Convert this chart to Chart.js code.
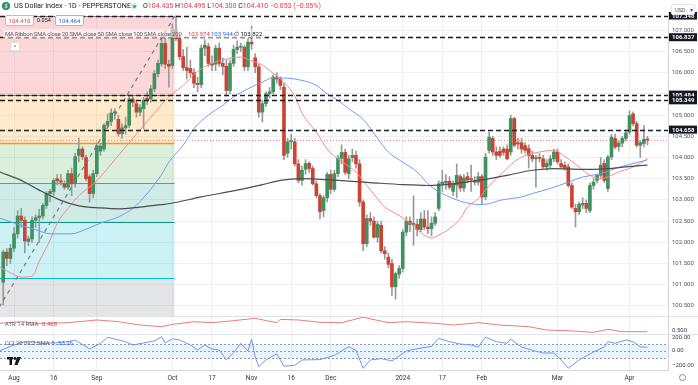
<!DOCTYPE html>
<html><head><meta charset="utf-8">
<script src="https://cdn.jsdelivr.net/npm/chart.js@4.4.1/dist/chart.umd.min.js"></script>
<style>
body{margin:0;width:698px;height:385px;overflow:hidden;background:#fff;font-family:Roboto,"Open Sans",sans-serif;position:relative}
.pane{position:absolute;left:0;width:698px;overflow:hidden}
.t{position:absolute;white-space:nowrap;font-size:6px;line-height:8px;z-index:5}
</style></head><body>
<div class="pane" style="top:12px;height:304px;z-index:1"><canvas id="main" width="698" height="304"></canvas></div>
<div class="pane" style="top:316px;height:18px;z-index:2"><canvas id="atr" width="698" height="18"></canvas></div>
<div class="pane" style="top:334px;height:51px;z-index:3"><canvas id="cci" width="698" height="51"></canvas></div>

<div class="t" style="left:2px;top:2px;width:8px;height:8px;border-radius:50%;background:#2e8b57;color:#fff;font-size:6px;line-height:8px;text-align:center">$</div>
<div class="t" style="left:14px;top:2px;color:#131722;font-size:7.2px">US Dollar Index · 1D · PEPPERSTONE</div>
<div class="t" style="left:131px;top:3px;width:6px;height:6px;border-radius:50%;background:#c8efd9"><div style="margin:1.5px;width:3px;height:3px;border-radius:50%;background:#22ab94"></div></div>
<div class="t" style="left:143px;top:2px;color:#131722;font-size:7px">O<span style="color:#f23645">104.435</span> H<span style="color:#f23645">104.495</span> L<span style="color:#f23645">104.300</span> C<span style="color:#f23645">104.410 −0.053 (−0.05%)</span></div>

<div class="t" style="left:5px;top:15px;width:27px;height:9px;border:1px solid #f7a1a8;border-radius:2px;background:#fff;color:#f23645;text-align:center;line-height:9px">104.410</div>
<div class="t" style="left:37px;top:16px;color:#131722;font-size:5.5px">0.054</div>
<div class="t" style="left:55px;top:15px;width:27px;height:9px;border:1px solid #9db6f7;border-radius:2px;background:#fff;color:#2962ff;text-align:center;line-height:9px">104.464</div>
<div class="t" style="left:3px;top:29px;width:262px;height:9px;background:rgba(255,255,255,0.55)"></div>
<div class="t" style="left:5px;top:30px;color:#5d606b;letter-spacing:-0.2px">MA Ribbon SMA close 20 SMA close 50 SMA close 100 SMA close 200</div>
<div class="t" style="left:188px;top:30px;color:#f23645">103.974</div>
<div class="t" style="left:211px;top:30px;color:#2962ff">103.944</div>
<div class="t" style="left:234px;top:30px;color:#131722">∅ 103.822</div>
<div class="t" style="left:10px;top:42px;width:8px;height:7px;border:1px solid #ddd;border-radius:2px;background:#fff;color:#555;font-size:6px;line-height:8px;text-align:center">^</div>

<div class="t" style="left:671px;top:4px;width:24px;height:11px;border:1px solid #e0e3eb;border-radius:2px;background:#fff;color:#555;font-size:5.5px;line-height:11px;padding-left:3px;box-sizing:border-box">USD <span style="margin-left:3px">▾</span></div>

<div class="t" style="left:5px;top:320px;color:#5d606b">ATR 14 RMA <span style="color:#f23645;margin-left:2px">0.468</span></div>
<div class="t" style="left:5px;top:339px;color:#5d606b">CCI 20 hlc3 SMA 5 <span style="color:#2962ff;margin-left:2px">53.26</span></div>
<svg class="t" style="left:7px;top:357px" width="14" height="8" viewBox="0 0 14 8"><rect x="0" y="0" width="6" height="2.5" fill="#131722"/><rect x="2.5" y="0" width="2.5" height="8" fill="#131722"/><circle cx="8" cy="1.5" r="1.4" fill="#131722"/><path d="M10 0 L14 0 L10.5 8 L7.5 8 Z" fill="#131722"/></svg>
<div class="t" style="left:679px;top:374px;width:7px;height:7px;border:1px solid #888;border-radius:50%;box-sizing:border-box"></div>

<script>
// ---------- data ----------
const tickIdx  = [3, 14, 26, 47, 58, 69, 80, 91, 111, 122, 133, 154, 174];
const tickText = ['Aug','16','Sep','Oct','17','Nov','16','Dec','2024','17','Feb','Mar','Apr'];
const priceTicks = [100.5,101,101.5,102,102.5,103,103.5,104,104.5,105,105.5,106,106.5,107];
const atrTicks = [0.5];
const cciTicks = [200, 0, -200];

const open = [101.06,101.77,101.62,101.86,102.20,102.62,102.52,102.02,102.08,102.52,102.58,102.62,102.87,103.15,103.19,103.50,103.45,103.38,103.30,103.62,103.38,104.05,104.20,104.00,103.55,103.15,103.62,104.15,104.20,104.76,104.85,105.05,104.90,104.56,104.70,104.76,105.38,105.27,105.07,105.15,105.40,105.38,105.62,105.98,106.21,106.69,106.20,106.17,107.02,106.80,106.38,106.12,106.10,106.00,105.75,105.72,106.58,106.62,106.22,106.20,106.58,106.22,106.15,105.58,106.22,106.55,106.60,106.60,106.14,106.72,106.35,106.14,105.07,105.27,105.50,105.55,105.90,105.85,105.66,104.10,104.37,104.37,103.85,103.46,103.72,103.86,103.74,103.38,103.10,102.75,103.05,103.60,103.25,103.62,103.98,104.12,103.62,104.00,104.05,103.85,102.95,101.97,102.56,102.50,102.12,102.40,101.80,101.65,101.50,100.95,101.25,101.38,102.24,102.50,102.42,102.42,102.30,102.55,102.36,102.32,102.45,102.80,103.38,103.40,103.44,103.20,103.35,103.55,103.28,103.55,103.50,103.45,103.42,103.55,103.07,104.17,104.45,104.13,104.15,104.20,104.20,104.13,104.92,104.35,104.35,104.28,104.21,104.05,103.97,104.00,103.97,103.78,103.82,103.97,104.13,103.86,103.82,103.78,103.34,102.80,102.72,102.88,102.92,102.75,103.34,103.46,103.58,103.86,103.27,104.01,104.45,104.26,104.34,104.45,104.60,105.03,104.80,104.29,104.33,104.435];
const high = [101.82,101.85,101.95,102.35,102.75,102.80,102.60,102.15,102.60,102.65,102.78,102.92,103.20,103.25,103.50,103.60,103.60,103.45,103.70,103.75,104.10,104.46,104.25,104.05,103.60,103.70,104.35,104.32,104.80,105.03,105.15,105.15,105.00,104.80,104.95,105.45,105.45,105.35,105.25,105.42,105.55,105.70,106.05,106.30,106.80,106.85,106.30,107.15,107.34,106.90,106.55,106.60,106.30,106.10,105.90,106.65,106.78,106.70,106.40,106.65,106.70,106.35,106.30,106.30,106.65,106.75,106.70,106.65,106.80,107.10,106.45,106.20,105.35,105.55,105.65,105.95,106.00,105.90,105.75,104.45,104.55,104.45,103.95,103.80,103.95,103.90,103.80,103.45,103.15,103.10,103.65,103.70,103.70,104.05,104.30,104.20,104.05,104.20,104.15,103.95,103.00,102.65,102.70,102.60,102.50,102.50,101.90,101.75,101.60,101.30,101.45,102.30,102.60,102.60,103.10,102.55,102.70,102.75,102.75,102.60,102.70,103.45,103.70,103.60,103.55,103.45,103.85,103.60,103.60,103.65,103.82,103.55,103.65,103.60,104.10,104.60,104.50,104.25,104.25,104.25,104.30,105.00,104.95,104.45,104.45,104.35,104.30,104.15,104.05,104.10,104.05,103.95,104.05,104.20,104.20,103.95,103.90,103.85,103.40,102.90,102.95,103.05,103.00,103.40,103.50,103.60,104.00,103.95,104.05,104.55,104.55,104.40,104.50,104.65,105.10,105.08,104.85,104.40,104.76,104.495];
const low = [100.52,101.45,101.50,101.78,102.10,102.35,101.75,101.92,102.00,102.35,102.00,102.55,102.80,102.95,103.10,103.35,103.35,103.25,103.25,103.10,103.30,103.90,103.95,103.45,102.95,103.05,103.55,104.05,104.15,104.70,104.75,104.90,104.50,104.45,104.55,104.70,105.20,104.95,104.98,104.68,105.25,105.30,105.55,105.90,106.15,106.10,105.66,106.10,106.75,106.30,106.05,105.85,105.90,105.65,105.55,105.65,106.40,106.15,106.05,106.05,106.15,105.95,105.45,105.50,106.15,106.45,106.50,106.05,106.05,106.55,106.00,104.95,104.84,105.20,105.40,105.50,105.75,105.60,103.95,104.00,104.20,103.80,103.40,103.35,103.60,103.65,103.35,103.05,102.55,102.60,102.95,103.15,103.20,103.55,103.85,103.60,103.50,103.90,103.75,102.85,101.80,101.90,102.40,102.10,102.00,101.75,101.60,101.40,100.75,100.66,101.15,101.30,102.15,102.25,101.93,102.15,102.25,102.30,102.20,102.15,102.40,102.75,103.20,103.25,103.25,103.10,103.05,103.20,103.20,103.40,103.20,103.35,103.35,102.90,103.00,104.10,104.05,103.95,104.00,104.05,103.95,104.05,104.25,104.20,104.10,104.10,103.75,103.90,103.30,103.90,103.75,103.70,103.75,103.90,103.85,103.75,103.70,103.30,102.80,102.36,102.65,102.80,102.70,102.70,103.25,103.40,103.50,103.40,103.20,103.95,104.20,104.15,104.25,104.40,104.55,104.75,104.25,104.00,104.25,104.30];
const close = [101.77,101.62,101.86,102.20,102.62,102.52,102.03,102.08,102.52,102.58,102.62,102.87,103.15,103.20,103.46,103.45,103.42,103.30,103.62,103.38,104.02,104.20,104.02,103.50,103.15,103.62,104.28,104.27,104.76,104.85,105.05,105.08,104.56,104.70,104.75,105.38,105.30,105.07,105.18,105.35,105.35,105.62,105.98,106.22,106.69,106.20,106.15,107.02,106.80,106.38,106.12,106.05,106.00,105.75,105.72,106.58,106.65,106.22,106.18,106.58,106.22,106.15,105.58,106.22,106.55,106.60,106.62,106.14,106.72,106.68,106.14,105.07,105.27,105.50,105.55,105.90,105.85,105.70,104.05,104.37,104.40,103.85,103.46,103.70,103.86,103.74,103.38,103.10,102.72,103.05,103.60,103.25,103.62,103.98,104.12,103.65,103.97,104.05,103.85,102.95,101.97,102.56,102.50,102.12,102.43,101.80,101.73,101.48,100.95,101.26,101.38,102.24,102.50,102.42,102.45,102.30,102.55,102.36,102.32,102.45,102.60,103.38,103.42,103.44,103.30,103.38,103.58,103.28,103.52,103.47,103.48,103.42,103.55,103.07,104.01,104.48,104.13,104.05,104.05,104.12,103.97,104.92,104.29,104.32,104.20,104.17,104.05,103.97,104.00,103.98,103.78,103.86,103.97,104.13,103.90,103.78,103.74,103.34,102.83,102.72,102.90,102.92,102.80,103.34,103.42,103.58,103.82,103.46,104.01,104.48,104.25,104.34,104.45,104.58,104.99,104.80,104.29,104.35,104.43,104.41];

const sma20Idx = [-1,2,5,8,10,13,15,18,21,26,31,36,41,46,50,54,58,62,66,69,72,74,77,81,83,87,90,93,95,98,101,104,106,109,112,115,117,119,121,124,127,129,132,135,138,142,145,149,153,155,157,160,163,166,169,171,174,177,179];
const sma20Val = [101.42,101.28,101.18,101.2,101.55,102.05,102.45,102.8,103.1,103.45,103.95,104.45,104.95,105.43,105.7,106.03,106.22,106.32,106.37,106.28,106.18,106.05,105.85,105.45,105.05,104.6,104.2,103.97,103.85,103.66,103.34,103.03,102.83,102.68,102.52,102.3,102.17,102.1,102.17,102.32,102.56,102.83,103.03,103.34,103.58,103.9,104.05,104.13,104.17,104.09,103.97,103.78,103.58,103.5,103.58,103.66,103.74,103.86,103.974];
const sma50Idx = [-1,5,9,13,19,23,27,32,36,40,44,46,50,53,57,61,64,68,72,75,79,83,87,90,93,96,100,104,107,111,115,118,121,124,127,130,132,135,138,144,147,152,157,161,166,170,175,179];
const sma50Val = [102.57,102.4,102.3,102.2,102.2,102.31,102.45,102.6,102.8,103.15,103.6,103.89,104.29,104.68,105.0,105.23,105.43,105.62,105.78,105.88,105.87,105.82,105.7,105.5,105.35,105.15,104.9,104.45,104.13,103.89,103.66,103.38,103.19,103.07,102.97,102.91,102.89,102.91,102.99,103.07,103.15,103.27,103.42,103.54,103.62,103.74,103.86,103.944];
const sma200Idx = [-1,5,10,16,21,27,32,38,44,46,55,65,72,77,83,93,102,111,118,125,132,140,147,153,161,168,173,179];
const sma200Val = [103.66,103.46,103.23,102.99,102.86,102.81,102.79,102.83,102.89,102.91,103.07,103.23,103.36,103.46,103.5,103.46,103.41,103.36,103.34,103.38,103.46,103.58,103.7,103.74,103.72,103.74,103.78,103.822];

const atrIdx = [-1,5,10,18,26,32,38,44,47,53,58,64,70,76,77,82,88,94,100,107,112,120,125,132,138,146,151,157,164,168,172,179];
const atrVal = [0.626,0.657,0.626,0.638,0.689,0.657,0.594,0.563,0.607,0.657,0.638,0.676,0.72,0.638,0.70,0.689,0.645,0.638,0.74,0.638,0.657,0.626,0.594,0.638,0.594,0.563,0.5,0.487,0.456,0.513,0.468,0.468];
const cciIdx = [-1,3,6,8,11,14,18,20,24,27,29,31,34,36,39,42,44,45,47,49,52,54,56,58,60,62,64,66,68,69,70,71,73,76,78,81,83,88,92,94,96,98,100,102,105,108,112,115,119,121,124,127,130,132,134,137,140,141,144,147,150,153,155,157,160,164,167,168,170,173,175,177,179];
const cciVal = [4,84,130,130,107,112,130,153,28,107,190,167,130,84,112,140,200,112,170,153,84,14,84,28,14,-125,-23,107,0,167,-83,-218,-125,-37,-213,-199,-125,-120,-60,0,60,9,-241,-125,-106,-139,0,32,65,176,130,97,84,56,195,130,107,167,56,9,-28,-28,-125,-241,-125,-14,56,130,107,153,130,56,53.26];

const fibLevels = [107.33, 105.48, 104.34, 103.41, 102.49, 101.17, 99.5];
const fibFromIdx = -8, fibToIdx = 47.6;
const dashLevels = [107.348, 106.837, 105.484, 105.349, 104.658];
const lastPrice = 104.41;
const cciBand = [100, 0, -100];

// ---------- styles ----------
const UP = '#3f9160', DOWN = '#cc4332', WICK = '#9a9a9a';
const GRID = '#eef0f4';
const fibFill = ['rgba(242,54,69,0.2)','rgba(255,152,0,0.2)','rgba(76,175,80,0.2)','rgba(8,153,129,0.2)','rgba(0,188,212,0.2)','rgba(120,123,134,0.2)'];
const fibLine = ['#787b86','#f23645','#ff9800','#4caf50','#089981','#00bcd4','#787b86'];
const FONT = {family:'Roboto, sans-serif', size:6};
const XFONT = {family:'Roboto, sans-serif', size:6.5};

const idx = open.map((_, i) => i);
const pts = (xs, ys) => xs.map((x, k) => ({x, y: ys[k]}));
const XMIN = -0.9, XMAX = 184.7;

function xScale(showLabels){
  return {
    type:'linear', min:XMIN, max:XMAX, offset:false,
    afterBuildTicks: s => { s.ticks = tickIdx.map(v => ({value:v})); },
    ticks:{display:showLabels, autoSkip:false, maxRotation:0, padding:4, color:'#333', font:XFONT,
      callback: v => { const k = tickIdx.indexOf(v); return k >= 0 ? tickText[k] : ''; }},
    grid:{color:GRID, drawTicks:false, offset:false},
    border:{display:showLabels, color:'#d1d4dc'},
    afterFit: s => { s.height = showLabels ? 15 : 0; s.paddingLeft = 0; s.paddingRight = 0; }
  };
}
function yScale(min, max, tickVals, fmt, showGrid, showLabels){
  return {
    position:'right', min, max,
    afterBuildTicks: s => { s.ticks = tickVals.map(v => ({value:v})); },
    ticks:{display:showLabels, color:'#555', font:FONT, padding:4, autoSkip:false, callback: fmt},
    grid:{color: showGrid ? GRID : 'rgba(0,0,0,0)', drawTicks:false},
    border:{display:true, color:'#d1d4dc'},
    afterFit: s => { s.width = 30; s.paddingTop = 0; s.paddingBottom = 0; }
  };
}
const baseOpts = {responsive:false, animation:false, events:[], layout:{padding:0},
  plugins:{legend:{display:false}, tooltip:{enabled:false}}};

function axisLabelPlugin(vals, fmt){
  return {
    id:'axlab',
    afterDraw(chart){
      const {ctx, chartArea:a, scales:{y}} = chart;
      ctx.save(); ctx.font = '6px Roboto, sans-serif'; ctx.fillStyle = '#444'; ctx.textBaseline = 'middle';
      vals.forEach(v => ctx.fillText(fmt(v), a.right + 4, Math.max(3.5, y.getPixelForValue(v))));
      ctx.restore();
    }
  };
}

const fibPlugin = {
  id:'fib',
  beforeDatasetsDraw(chart){
    const {ctx, chartArea:a, scales:{x, y}} = chart;
    ctx.save(); ctx.beginPath(); ctx.rect(a.left, a.top, a.right - a.left, a.bottom - a.top); ctx.clip();
    const x0 = x.getPixelForValue(fibFromIdx), x1 = x.getPixelForValue(fibToIdx);
    for (let k = 0; k < fibLevels.length - 1; k++){
      const y0 = y.getPixelForValue(fibLevels[k]), y1 = y.getPixelForValue(fibLevels[k+1]);
      ctx.fillStyle = fibFill[k]; ctx.fillRect(x0, y0, x1 - x0, y1 - y0);
    }
    fibLevels.forEach((v, k) => {
      const yy = Math.round(y.getPixelForValue(v)) + 0.5;
      ctx.strokeStyle = fibLine[k]; ctx.lineWidth = k === 2 ? 1.6 : 1;
      ctx.beginPath(); ctx.moveTo(x0, yy); ctx.lineTo(x1, yy); ctx.stroke();
    });
    const yp = Math.round(y.getPixelForValue(lastPrice)) + 0.5;
    ctx.strokeStyle = 'rgba(242,54,69,0.6)'; ctx.lineWidth = 1; ctx.setLineDash([1,2]);
    ctx.beginPath(); ctx.moveTo(a.left, yp); ctx.lineTo(a.right, yp); ctx.stroke();
    ctx.restore();
  },
  afterDatasetsDraw(chart){
    const {ctx, chartArea:a, scales:{y}} = chart;
    ctx.save(); ctx.strokeStyle = '#1e1e1e'; ctx.lineWidth = 1.3; ctx.setLineDash([5,3]);
    dashLevels.forEach(v => {
      const yy = Math.round(y.getPixelForValue(v)) + 0.5;
      ctx.beginPath(); ctx.moveTo(a.left, yy); ctx.lineTo(a.right, yy); ctx.stroke();
    });
    ctx.restore();
  },
  afterDraw(chart){
    const {ctx, chartArea:a, scales:{y}} = chart;
    ctx.save(); ctx.font = 'bold 6px Roboto, sans-serif'; ctx.textBaseline = 'middle';
    dashLevels.forEach(v => {
      const yy = y.getPixelForValue(v);
      ctx.fillStyle = '#131722'; ctx.fillRect(a.right + 1, yy - 4, 28, 8);
      ctx.fillStyle = '#fff'; ctx.fillText(v.toFixed(3), a.right + 4, yy + 0.5);
    });
    ctx.restore();
  }
};

const sepPlugin = {
  id:'sep',
  afterDraw(chart){
    const ctx = chart.ctx; ctx.save(); ctx.strokeStyle = '#e0e3eb'; ctx.lineWidth = 1;
    ctx.beginPath(); ctx.moveTo(0, 0.5); ctx.lineTo(chart.width, 0.5); ctx.stroke(); ctx.restore();
  }
};

const cciPlugin = {
  id:'cciband',
  beforeDatasetsDraw(chart){
    const {ctx, chartArea:a, scales:{y}} = chart;
    ctx.save();
    const y0 = y.getPixelForValue(cciBand[0]), y2 = y.getPixelForValue(cciBand[2]);
    ctx.fillStyle = 'rgba(33,150,243,0.1)'; ctx.fillRect(a.left, y0, a.right - a.left, y2 - y0);
    ctx.strokeStyle = '#9598a1'; ctx.lineWidth = 1; ctx.setLineDash([2,2]);
    cciBand.forEach(v => { const yy = Math.round(y.getPixelForValue(v)) + 0.5;
      ctx.beginPath(); ctx.moveTo(a.left, yy); ctx.lineTo(a.right, yy); ctx.stroke(); });
    ctx.restore();
  }
};

const fmtPrice = v => v.toFixed(3);
const fmtCci = v => (v < 0 ? '−' : '') + Math.abs(v).toFixed(2);

// ---------- main chart ----------
new Chart(document.getElementById('main'), {
  data:{datasets:[
    {type:'bar', data: idx.map(i => ({x:i, y:[low[i], high[i]]})), backgroundColor: WICK,
     barThickness:1, grouped:false, order:3},
    {type:'bar', data: idx.map(i => ({x:i, y:[open[i], close[i]]})),
     backgroundColor: idx.map(i => close[i] >= open[i] ? UP : DOWN),
     barThickness:3, minBarLength:1, grouped:false, order:2},
    {type:'line', data: pts(sma200Idx, sma200Val), borderColor:'#4d4d4d', borderWidth:1.2, pointRadius:0, cubicInterpolationMode:'monotone', order:1},
    {type:'line', data: pts(sma50Idx, sma50Val), borderColor:'#6f9cf5', borderWidth:1, pointRadius:0, cubicInterpolationMode:'monotone', order:1},
    {type:'line', data: pts(sma20Idx, sma20Val), borderColor:'#f28b8e', borderWidth:1, pointRadius:0, cubicInterpolationMode:'monotone', order:1},
    {type:'line', data: [{x:fibFromIdx, y:fibLevels[6]}, {x:fibToIdx, y:fibLevels[0]}], borderColor:'#787b86', borderWidth:1.2, borderDash:[4,4], pointRadius:0, order:0}
  ]},
  options:{...baseOpts, scales:{x:xScale(false), y:yScale(100.262, 107.432, priceTicks, fmtPrice, true, true)}},
  plugins:[fibPlugin]
});

// ---------- ATR pane ----------
new Chart(document.getElementById('atr'), {
  data:{datasets:[{type:'line', data: pts(atrIdx, atrVal), borderColor:'#ec7b7b', borderWidth:1, pointRadius:0}]},
  options:{...baseOpts, scales:{x:xScale(false), y:yScale(0.425, 0.764, atrTicks, fmtPrice, false, false)}},
  plugins:[sepPlugin, axisLabelPlugin(atrTicks, fmtPrice)]
});

// ---------- CCI pane ----------
new Chart(document.getElementById('cci'), {
  data:{datasets:[{type:'line', data: pts(cciIdx, cciVal), borderColor:'#6d98f2', borderWidth:1, pointRadius:0}]},
  options:{...baseOpts, scales:{x:xScale(true), y:yScale(-265, 237, cciTicks, fmtCci, false, false)}},
  plugins:[sepPlugin, cciPlugin, axisLabelPlugin(cciTicks, fmtCci)]
});
</script>
</body></html>
